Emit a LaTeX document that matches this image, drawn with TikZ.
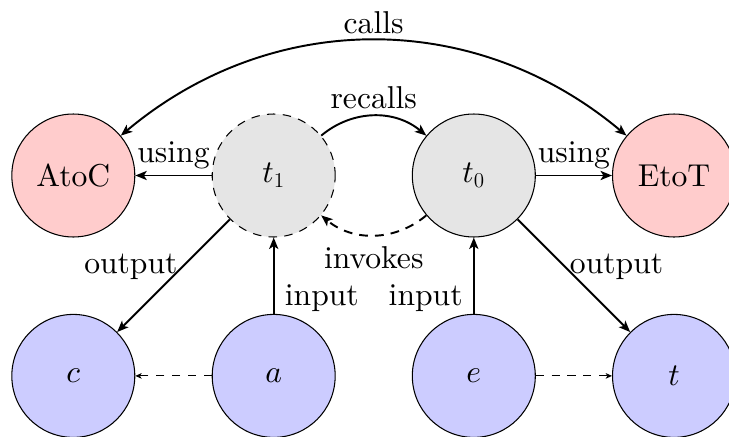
\documentclass[tikz,border=0pt]{standalone}
\usepackage{fontspec}
\setmainfont{lmroman10-regular.otf}
\usetikzlibrary{arrows.meta}
% math italic from the 10pt design, scaled freely
\DeclareFontShape{OML}{cmm}{m}{it}{<->cmmi10}{}
\begin{document}
\begin{tikzpicture}[x=0.02cm, y=0.02cm, font=\fontsize{18}{22}\selectfont,
  state/.style={circle, draw, line width=0.6pt, minimum size=2.46cm, inner sep=0pt},
  fnnode/.style={state, fill=red!20},
  tmpnode/.style={state, fill=black!10},
  varnode/.style={state, fill=blue!20},
  link/.style={line width=1.1pt, -{Stealth[length=6.5pt, width=5.2pt, inset=1.6pt]}},
  bothlink/.style={line width=1.1pt, {Stealth[length=6.5pt, width=5.2pt, inset=1.6pt]}-{Stealth[length=6.5pt, width=5.2pt, inset=1.6pt]}},
  dashlink/.style={link, dash pattern=on 5pt off 4pt},
  weak/.style={line width=0.6pt, dash pattern=on 4.6pt off 4.4pt, -{Stealth[length=3.6pt, width=3.2pt, inset=1pt]}},
]
\useasboundingbox (0,0) rectangle (729,-436);

% function nodes
\node[fnnode] (AtoC) at (73.3,-175.5) {AtoC};
\node[fnnode] (EtoT) at (674,-175.5) {EtoT};

% transformation nodes
\node[tmpnode, dash pattern=on 4.8pt off 4.2pt] (t1) at (273.7,-175.5) {$t_1$};
\node[tmpnode] (t0) at (473.8,-175.5) {$t_0$};

% variable nodes
\node[varnode] (c) at (73.3,-375.9) {$c$};
\node[varnode] (a) at (273.7,-375.9) {$a$};
\node[varnode] (e) at (473.8,-375.9) {$e$};
\node[varnode] (t) at (674,-375.9) {$t$};

% connections
\draw[bothlink] (AtoC) to[out=40, in=140] node[above] {calls} (EtoT);
\draw[link] (t1) to[out=40, in=140] node[above] {recalls} (t0);
\draw[dashlink] (t0) to[out=220, in=320] node[below, yshift=-2.5pt] {invokes} (t1);

\draw[link] (t1) -- node[above] {using} (AtoC);
\draw[link] (t0) -- node[above] {using} (EtoT);

\draw[link] (t1) -- node[pos=0.42, left, xshift=1pt] {output} (c);
\draw[link] (t0) -- node[pos=0.42, right, xshift=-1pt] {output} (t);

\draw[link] (a) -- node[pos=0.2, right, xshift=2.5pt] {input} (t1);
\draw[link] (e) -- node[pos=0.2, left, xshift=-2.5pt] {input} (t0);

\draw[weak] (a) -- (c);
\draw[weak] (e) -- (t);
\end{tikzpicture}
\end{document}
